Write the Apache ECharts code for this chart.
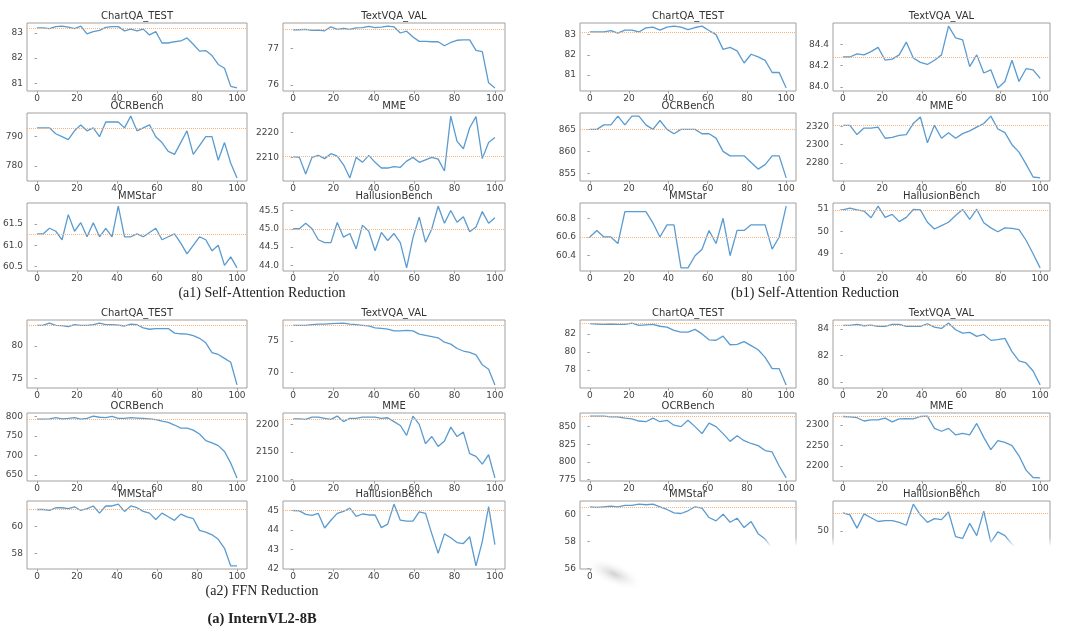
<!DOCTYPE html>
<html><head><meta charset="utf-8">
<script src="https://cdn.jsdelivr.net/npm/echarts@6/dist/echarts.min.js"></script>
<style>html,body{margin:0;padding:0;background:#fff}#c{width:1080px;height:633px}</style>
</head><body><div id="c"></div>
<script>
// x positions (percentage of layers reduced)
const xA = [0,3.125,6.25,9.375,12.5,15.625,18.75,21.875,25,28.125,31.25,34.375,37.5,40.625,43.75,46.875,50,53.125,56.25,59.375,62.5,65.625,68.75,71.875,75,78.125,81.25,84.375,87.5,90.625,93.75,96.875,100];
const xB = [0,3.571,7.143,10.714,14.286,17.857,21.429,25,28.571,32.143,35.714,39.286,42.857,46.429,50,53.571,57.143,60.714,64.286,67.857,71.429,75,78.571,82.143,85.714,89.286,92.857,96.429,100];
const xTicks = [0,20,40,60,80,100];

// (a1) InternVL2-8B Self-Attention Reduction
const a1_chartqa = [83.2,83.2,83.17,83.25,83.27,83.23,83.17,83.27,82.96,83.05,83.1,83.22,83.25,83.25,83.08,83.15,83.08,83.15,82.92,83.05,82.6,82.6,82.65,82.68,82.8,82.55,82.28,82.3,82.1,81.75,81.6,80.88,80.82];
const a1_textvqa = [77.52,77.52,77.53,77.5,77.51,77.49,77.6,77.53,77.56,77.53,77.57,77.58,77.61,77.58,77.59,77.62,77.6,77.43,77.48,77.32,77.2,77.2,77.19,77.19,77.08,77.17,77.23,77.24,77.24,76.95,76.92,76.06,75.92];
const a1_ocr = [793,793,793,791,790,789,792,794,792,793,790,795,795,795,793,797,792,793,794,790,788,785,784,788,792,784,787,790,790,782,788,781,776];
const a1_mme = [2210.3,2210,2203.3,2210,2210.8,2209.5,2211.5,2210.5,2207,2201.7,2210,2208,2210.8,2208,2205.7,2205.7,2206.3,2206,2208.5,2210,2208,2209,2210,2209.3,2204.5,2226.7,2216.5,2213.5,2222,2226.5,2209.5,2216,2218];
const a1_mmstar = [61.27,61.27,61.4,61.33,61.13,61.72,61.33,61.53,61.2,61.53,61.2,61.4,61.2,61.92,61.2,61.2,61.27,61.2,61.3,61.4,61.13,61.2,61.27,61.05,60.8,61.0,61.2,61.13,60.87,61.0,60.53,60.73,60.47];
const a1_hall = [45.0,45.0,45.15,45.0,44.7,44.62,44.62,45.17,44.77,44.87,44.45,45.1,44.93,44.4,44.9,44.68,44.87,44.62,43.93,44.75,45.32,44.63,45.0,45.62,45.15,45.5,45.18,45.33,44.92,45.05,45.47,45.15,45.3];

// (b1) Self-Attention Reduction
const b1_chartqa = [83.13,83.13,83.13,83.2,83.07,83.22,83.22,83.13,83.33,83.37,83.22,83.37,83.42,83.37,83.25,83.35,83.42,83.2,83.0,82.27,82.37,82.2,81.6,82.03,81.9,81.73,81.13,81.13,80.37];
const b1_textvqa = [84.28,84.28,84.31,84.3,84.33,84.37,84.25,84.26,84.3,84.42,84.27,84.23,84.21,84.25,84.3,84.57,84.46,84.44,84.19,84.3,84.13,84.16,83.99,84.05,84.25,84.05,84.17,84.16,84.08];
const b1_ocr = [865,865,866,866,868,866,868,868,866,865,867,865,864,865,865,865,864,864,863,860,859,859,859,857.5,856,857,859,859,854];
const b1_mme = [2321,2321,2311,2318,2318,2319,2307,2308,2310,2311,2323,2330,2302,2321,2307,2313,2307,2312,2315,2319,2323,2331,2317,2313,2300,2292,2279,2265,2264];
const b1_mmstar = [60.6,60.67,60.6,60.6,60.53,60.87,60.87,60.87,60.87,60.75,60.6,60.73,60.73,60.27,60.27,60.4,60.47,60.67,60.53,60.8,60.4,60.67,60.67,60.73,60.73,60.73,60.47,60.6,60.93];
const b1_hall = [50.95,51.03,50.95,50.9,50.6,51.12,50.62,50.75,50.43,50.62,50.97,50.95,50.4,50.1,50.25,50.4,50.7,50.97,50.53,50.98,50.38,50.15,49.98,50.15,50.13,50.07,49.6,49.0,48.37];

// (a2) FFN Reduction
const a2_chartqa = [83.2,83.25,83.55,83.2,83.15,83.0,83.3,83.2,83.2,83.3,83.55,83.3,83.3,83.25,83.1,83.4,83.3,82.8,82.6,82.7,82.7,82.7,82.0,81.9,81.85,81.6,81.2,80.5,79.0,78.7,78.1,77.5,74.0];
const a2_textvqa = [77.5,77.5,77.5,77.6,77.7,77.7,77.75,77.8,77.85,77.7,77.6,77.5,77.4,77.1,77.0,76.9,76.6,76.6,76.7,76.6,76.1,75.9,75.7,75.5,74.8,74.5,73.8,73.4,73.2,72.8,71.2,70.5,68.0];
const a2_ocr = [793,793,794,797,794,795,797,793,795,801,798,797,800,795,795,797,796,795,794,792,788,785,778,770,770,765,755,738,732,725,710,680,642];
const a2_mme = [2210,2210,2209,2213,2213,2211,2209,2215,2205,2211,2211,2213,2213,2213,2211,2212,2205,2198,2180,2215,2200,2165,2178,2160,2170,2195,2178,2186,2147,2142,2128,2145,2103];
const a2_mmstar = [61.27,61.27,61.2,61.4,61.4,61.33,61.47,61.2,61.33,61.53,61.0,61.53,61.53,61.67,61.13,61.53,61.4,61.13,61.0,60.53,61.0,60.73,60.47,60.93,60.73,60.6,59.73,59.6,59.4,59.07,58.4,57.1,57.1];
const a2_hall = [45.0,44.98,44.8,44.75,44.85,44.1,44.5,44.85,44.95,45.12,44.7,44.82,44.77,44.77,44.12,44.3,45.33,44.5,44.45,44.45,44.93,44.85,43.8,42.8,43.8,43.6,43.35,43.3,43.65,42.15,43.4,45.2,43.25];

// (b2) FFN Reduction
const b2_chartqa = [83.13,83.1,83.05,83.1,83.05,83.05,83.2,82.95,83.0,83.05,82.85,82.75,82.4,82.2,82.2,82.5,82.0,81.35,81.3,81.75,80.8,80.85,81.15,80.7,80.25,79.4,78.15,78.15,76.35];
const b2_textvqa = [84.28,84.28,84.35,84.25,84.3,84.2,84.2,84.35,84.35,84.2,84.2,84.2,84.4,84.15,84.05,84.45,83.95,83.7,83.75,83.45,83.6,83.15,83.2,83.3,82.3,81.6,81.45,80.85,79.8];
const b2_ocr = [865,865,865,864,864,862,861,858,857,862,857,859,852,850,859,850,840,855,850,840,829,837,830,826,823,816,814,794,777];
const b2_mme = [2321,2320,2318,2310,2313,2313,2317,2308,2315,2316,2315,2321,2322,2292,2285,2292,2276,2280,2276,2304,2270,2240,2262,2258,2250,2225,2190,2172,2171];
const b2_mmstar = [60.6,60.55,60.6,60.65,60.6,60.7,60.7,60.8,60.75,60.8,60.6,60.4,60.15,60.1,60.3,60.6,60.5,59.8,59.55,60.05,59.45,59.75,59.05,59.5,58.6,58.2,57.5,57.0,56.2];
const b2_hall = [50.95,50.85,50.15,50.9,50.7,50.5,50.55,50.55,50.45,50.3,51.42,50.85,50.45,50.65,50.6,51.0,49.7,49.6,50.4,49.75,51.05,49.4,49.95,49.75,49.3,49.0,48.7,48.5,48.15];

// baselines (unpruned model)
const refs = {a1:[83.18,77.52,793,2210.3,61.27,45.0], b1:[83.13,84.28,865,2321,60.6,50.95], a2:[83.2,77.5,793,2210,61.27,45.0], b2:[83.13,84.28,865,2321,60.6,50.95]};
// y tick values and decimals
const yTicks = {
  a1:[[81,82,83],[76,77],[780,790],[2210,2220],[60.5,61,61.5,62],[44,44.5,45,45.5]],
  b1:[[81,82,83],[84.0,84.2,84.4],[855,860,865],[2280,2300,2320],[60.4,60.6,60.8],[49,50,51]],
  a2:[[75,80],[70,75],[650,700,750,800],[2100,2150,2200],[58,60],[42,43,44,45]],
  b2:[[78,80,82],[80,82,84],[775,800,825,850],[2200,2250,2300],[56,58,60],[48,50]]
};
const yDec = {a1:[0,0,0,0,1,1], b1:[0,1,0,0,1,0], a2:[0,0,0,0,0,0], b2:[0,0,0,0,0,0]};
const titles = ['ChartQA_TEST','TextVQA_VAL','OCRBench','MME','MMStar','HallusionBench'];
const series_data = {
  a1:[a1_chartqa,a1_textvqa,a1_ocr,a1_mme,a1_mmstar,a1_hall],
  b1:[b1_chartqa,b1_textvqa,b1_ocr,b1_mme,b1_mmstar,b1_hall],
  a2:[a2_chartqa,a2_textvqa,a2_ocr,a2_mme,a2_mmstar,a2_hall],
  b2:[b2_chartqa,b2_textvqa,b2_ocr,b2_mme,b2_mmstar,b2_hall]
};

// layout
const colX = [27,283,580,833], colW = [220,222,216,217];
const rowY = [23,113,203,320,413,501], rowH = 68;
const groups = [{k:'a1',x:xA,c0:0,r0:0},{k:'b1',x:xB,c0:2,r0:0},{k:'a2',x:xA,c0:0,r0:3},{k:'b2',x:xB,c0:2,r0:3}];
const FONT = 'DejaVu Sans';
const LINE = '#5a9bd0', REF = '#f8b27a', FRAME = '#a0a0a0', TXT = '#444';

const grid=[], xAxis=[], yAxis=[], series=[], graphic=[];
groups.forEach(g=>{
  for(let p=0;p<6;p++){
    const col = g.c0 + (p%2), row = g.r0 + Math.floor(p/2);
    const ys = series_data[g.k][p], ref = refs[g.k][p], tk = yTicks[g.k][p], dec = yDec[g.k][p];
    const lo = Math.min(...ys, ref), hi = Math.max(...ys, ref), pad = (hi-lo)*0.05;
    const i = grid.length;
    grid.push({left:colX[col], top:rowY[row], width:colW[col], height:rowH, show:true, borderColor:FRAME, borderWidth:1, backgroundColor:'#fff'});
    xAxis.push({gridIndex:i, type:'value', min:-5, max:105, axisLine:{show:false}, splitLine:{show:false},
      axisTick:{show:true, length:2.5, customValues:xTicks, lineStyle:{color:FRAME}},
      axisLabel:{customValues:xTicks, fontSize:9, color:TXT, margin:3, fontFamily:FONT}});
    yAxis.push({gridIndex:i, type:'value', min:lo-pad, max:hi+pad, axisLine:{show:false}, splitLine:{show:false},
      axisTick:{show:true, length:2.5, customValues:tk, lineStyle:{color:FRAME}},
      axisLabel:{customValues:tk, fontSize:9, color:TXT, margin:4, fontFamily:FONT, formatter:v=>Number(v).toFixed(dec)}});
    series.push({type:'line', xAxisIndex:i, yAxisIndex:i, showSymbol:false, symbol:'none',
      data:g.x.map((v,j)=>[v, ys[j]]), lineStyle:{color:LINE, width:1.3},
      markLine:{silent:true, symbol:'none', label:{show:false}, lineStyle:{color:REF, type:'dotted', width:1}, data:[{yAxis:ref}]}});
    graphic.push({type:'text', x:colX[col]+colW[col]/2, y:rowY[row]-6.5, silent:true,
      style:{text:titles[p], fill:'#333', font:'10px "'+FONT+'"', textAlign:'center', textVerticalAlign:'middle'}});
  }
});

const captions = [
  {t:'(a1) Self-Attention Reduction', x:262, y:293, f:'14px "Liberation Serif"'},
  {t:'(b1) Self-Attention Reduction', x:815, y:293, f:'14px "Liberation Serif"'},
  {t:'(a2) FFN Reduction', x:262, y:591, f:'14px "Liberation Serif"'},
  {t:'(a) InternVL2-8B', x:262, y:619, f:'bold 14.5px "Liberation Serif"'}
];
captions.forEach(c=>graphic.push({type:'text', x:c.x, y:c.y, silent:true, z:50,
  style:{text:c.t, fill:'#222', font:c.f, textAlign:'center', textVerticalAlign:'middle'}}));

// white-out patch covering the lower right of the source image
graphic.push({type:'rect', z:100, silent:true, shape:{x:592, y:537, width:488, height:96},
  style:{fill:{type:'linear', x:0, y:0, x2:0, y2:1, colorStops:[{offset:0,color:'rgba(255,255,255,0)'},{offset:0.1,color:'#fff'},{offset:1,color:'#fff'}]}}});
graphic.push({type:'circle', z:101, silent:true, x:614, y:574, scaleX:1.6, scaleY:0.6, rotation:-0.4, shape:{cx:0, cy:0, r:20},
  style:{fill:{type:'radial', x:0.5, y:0.5, r:0.5, colorStops:[{offset:0,color:'rgba(120,120,120,0.35)'},{offset:1,color:'rgba(255,255,255,0)'}]}}});

const chart = echarts.init(document.getElementById('c'), null, {renderer:'canvas'});
chart.setOption({animation:false, backgroundColor:'#fff', grid, xAxis, yAxis, series, graphic});
</script></body></html>
